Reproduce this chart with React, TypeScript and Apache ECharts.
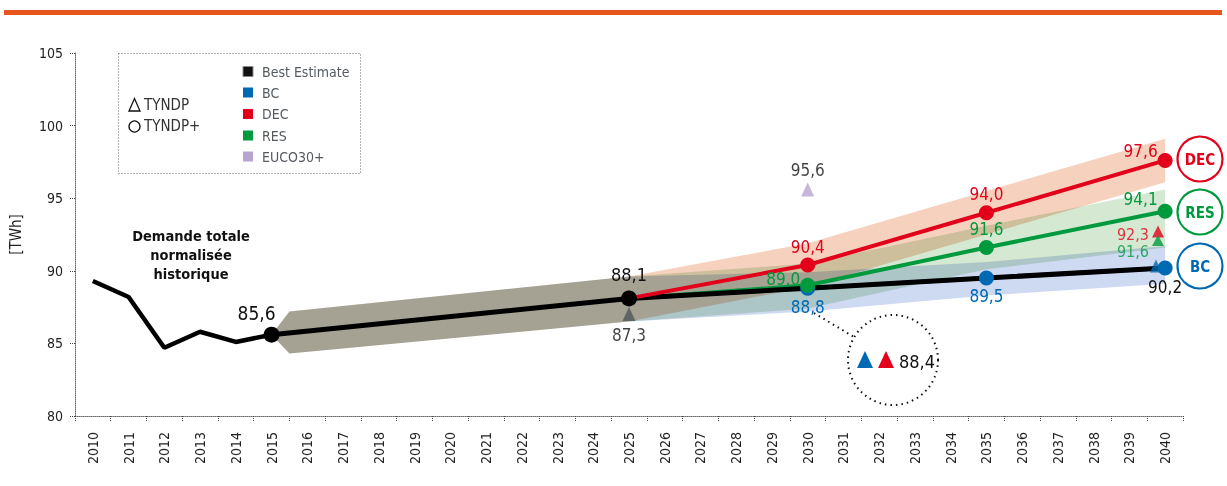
import React, { useEffect, useRef } from "react";
import * as echarts from "echarts";

// ---------- data ----------
const yearLabels = [
  "2010", "2011", "2012", "2013", "2014", "2015", "2016", "2017", "2018", "2019", "2020",
  "2021", "2022", "2023", "2024", "2025", "2026", "2027", "2028", "2029", "2030",
  "2031", "2032", "2033", "2034", "2035", "2036", "2037", "2038", "2039", "2040",
];

const historyYears = [2010, 2011, 2012, 2013, 2014, 2015];
const historyValues = [89.3, 88.2, 84.7, 85.8, 85.1, 85.6];

const bestYears = [2015, 2025, 2030, 2035, 2040];
const bestValues = [85.6, 88.1, 88.8, 89.5, 90.2];

const scenarioYears = [2025, 2030, 2035, 2040];
const decValues = [88.1, 90.4, 94.0, 97.6];
const resValues = [88.1, 89.0, 91.6, 94.1];
const bcValues = [88.1, 88.8, 89.5, 90.2];

// uncertainty bands (upper / lower edges)
const bandYears = [2015, 2015.5, 2025, 2030, 2035, 2040];
const decUpper = [85.6, 87.2, 89.6, 91.9, 95.5, 99.1];
const decLower = [85.6, 84.3, 86.5, 88.9, 92.5, 96.1];
const resUpper = [85.6, 87.2, 89.6, 90.5, 93.1, 95.6];
const resLower = [85.6, 84.3, 86.5, 87.4, 90.1, 91.6];
const bcUpper = [85.6, 87.2, 89.6, 89.9, 90.6, 91.7];
const bcLower = [85.6, 84.3, 86.5, 87.2, 88.3, 89.1];

// TYNDP markers
const tyndp2025 = 87.3;
const euco2030 = 95.6;
const tyndp2040Dec = 92.3;
const tyndp2040Res = 91.6;
const tyndp2040Bc = 90.2;
const tyndp2030Callout = 88.4;

const legendItems = ["Best Estimate", "BC", "DEC", "RES", "EUCO30+"];
const legendColors = ["#111111", "#0069B4", "#E2001A", "#009A3E", "#B8A4D0"];

// ---------- styles ----------
const FONT = '"Liberation Sans Narrow", "DejaVu Sans Condensed", "Roboto Condensed", sans-serif';
const RED = "#E2001A";
const GREEN = "#009A3E";
const BLUE = "#0069B4";
const PEACH_BAND = "#f6d2be";
const GREEN_BAND = "#d5e8d2";
const BLUE_BAND = "#ced9f2";

const fmt = (v: number) => v.toFixed(1).replace(".", ",");

function bandSeries(upper: number[], lower: number[], color: string) {
  return {
    type: "custom",
    xAxisIndex: 1,
    yAxisIndex: 0,
    silent: true,
    z: 1,
    data: bandYears.map((y, i) => [y, upper[i], lower[i]]),
    renderItem: (params: any, api: any) => {
      if (params.dataIndex !== 0) return null;
      const pts: number[][] = [];
      for (let i = 0; i < bandYears.length; i++) pts.push(api.coord([bandYears[i], upper[i]]));
      for (let i = bandYears.length - 1; i >= 0; i--) pts.push(api.coord([bandYears[i], lower[i]]));
      return {
        type: "polygon",
        shape: { points: pts },
        style: { fill: color, blend: "multiply" },
      };
    },
  };
}

function pairs(xs: number[], ys: number[]) {
  return xs.map((x, i) => [x, ys[i]]);
}

const labelBase = {
  show: true,
  fontFamily: FONT,
  fontSize: 17,
  lineHeight: 17,
  formatter: (p: any) => fmt(p.value[1]),
};

export default function App() {
  const ref = useRef<HTMLDivElement>(null);

  useEffect(() => {
    if (!ref.current) return;
    const chart = echarts.init(ref.current, undefined, { renderer: "svg" });

    const graphic: any[] = [];
    // top orange rule
    graphic.push({ type: "rect", shape: { x: 4, y: 10, width: 1218, height: 5 }, style: { fill: "#E8541E" } });
    // legend box
    graphic.push({
      type: "rect",
      shape: { x: 118.5, y: 53.5, width: 242, height: 120 },
      style: { fill: "none", stroke: "#666", lineWidth: 1, lineDash: [1, 2] },
    });
    graphic.push({
      type: "polygon",
      shape: { points: [[129, 111], [134.5, 98.5], [140, 111]] },
      style: { fill: "none", stroke: "#111", lineWidth: 1.3 },
    });
    graphic.push({
      type: "text",
      style: { text: "TYNDP", x: 144, y: 105, font: `15px ${FONT}`, fill: "#333", textVerticalAlign: "middle", verticalAlign: "middle" },
    });
    graphic.push({
      type: "circle",
      shape: { cx: 134.5, cy: 126.5, r: 5.5 },
      style: { fill: "none", stroke: "#111", lineWidth: 1.3 },
    });
    graphic.push({
      type: "text",
      style: { text: "TYNDP+", x: 144, y: 126, font: `15px ${FONT}`, fill: "#333", textVerticalAlign: "middle", verticalAlign: "middle" },
    });
    const legendY = [71.5, 92.5, 114, 135.5, 156.5];
    legendItems.forEach((name, i) => {
      graphic.push({
        type: "rect",
        shape: { x: 243, y: legendY[i] - 5, width: 10, height: 10 },
        style: { fill: legendColors[i], stroke: i === 0 ? "#888" : "none", lineWidth: 1 },
      });
      graphic.push({
        type: "text",
        style: {
          text: name, x: 262, y: legendY[i], font: `14px ${FONT}`, fill: "#555b60",
          textVerticalAlign: "middle", verticalAlign: "middle",
        },
      });
    });
    // historical caption
    graphic.push({
      type: "text",
      style: {
        text: "Demande totale\nnormalisée\nhistorique",
        x: 191, y: 255, font: `bold 14.5px ${FONT}`, fill: "#111", lineHeight: 19,
        textAlign: "center", align: "center", textVerticalAlign: "middle", verticalAlign: "middle",
      },
    });
    // callout circle
    graphic.push({
      type: "circle",
      shape: { cx: 893, cy: 360, r: 45 },
      style: { fill: "none", stroke: "#111", lineWidth: 2, lineDash: [1.5, 4] },
      z: 50,
    });
    graphic.push({
      type: "line",
      shape: { x1: 814, y1: 313, x2: 854, y2: 337 },
      style: { stroke: "#111", lineWidth: 2, lineDash: [1.5, 4] },
      z: 50,
    });
    graphic.push({
      type: "polygon",
      shape: { points: [[857, 368], [865, 351], [873, 368]] },
      style: { fill: BLUE },
      z: 50,
    });
    graphic.push({
      type: "polygon",
      shape: { points: [[878, 368], [886, 351], [894, 368]] },
      style: { fill: RED },
      z: 50,
    });
    graphic.push({
      type: "text",
      style: {
        text: fmt(tyndp2030Callout), x: 899, y: 361, font: `18px ${FONT}`, fill: "#111",
        textVerticalAlign: "middle", verticalAlign: "middle",
      },
      z: 50,
    });
    // scenario rings
    const rings = [
      { t: "DEC", c: RED, y: 159 },
      { t: "RES", c: GREEN, y: 212 },
      { t: "BC", c: BLUE, y: 266 },
    ];
    rings.forEach((r) => {
      graphic.push({
        type: "circle",
        shape: { cx: 1200, cy: r.y, r: 22.5 },
        style: { fill: "#fff", stroke: r.c, lineWidth: 2.2 },
        z: 50,
      });
      graphic.push({
        type: "text",
        style: {
          text: r.t, x: 1200, y: r.y + 1, font: `bold 15px ${FONT}`, fill: r.c,
          textAlign: "center", align: "center", textVerticalAlign: "middle", verticalAlign: "middle",
        },
        z: 51,
      });
    });

    const dotSeries = (name: string, color: string, items: any[], size: number) => ({
      name,
      type: "scatter",
      xAxisIndex: 1,
      yAxisIndex: 0,
      symbol: "circle",
      symbolSize: size,
      itemStyle: { color, opacity: 1 },
      z: 10,
      data: items,
    });

    const option: any = {
      animation: false,
      textStyle: { fontFamily: FONT },
      grid: { left: 74, right: 44, top: 53, bottom: 70, containLabel: false },
      xAxis: [
        {
          type: "category",
          data: yearLabels,
          boundaryGap: true,
          axisLine: { show: true, lineStyle: { color: "#666", type: "dotted", width: 1 } },
          axisTick: { show: true, interval: 0, length: 5, lineStyle: { color: "#444", type: "dotted", width: 1 } },
          axisLabel: { interval: 0, rotate: 90, margin: 16, fontSize: 14, color: "#222", fontFamily: FONT },
          splitLine: { show: false },
        },
        {
          type: "value",
          min: 2009.5,
          max: 2040.5,
          show: false,
          splitLine: { show: false },
        },
      ],
      yAxis: {
        type: "value",
        min: 80,
        max: 105,
        interval: 5,
        name: "[TWh]",
        nameLocation: "middle",
        nameGap: 52,
        nameRotate: 90,
        nameTextStyle: { fontSize: 15, color: "#222", fontFamily: FONT },
        axisLine: { show: true, lineStyle: { color: "#666", type: "dotted", width: 1 } },
        axisTick: { show: true, length: 5, lineStyle: { color: "#444", type: "dotted" } },
        axisLabel: { fontSize: 14, color: "#222", margin: 12, fontFamily: FONT },
        splitLine: { show: false },
      },
      graphic,
      series: [
        bandSeries(decUpper, decLower, PEACH_BAND),
        bandSeries(resUpper, resLower, GREEN_BAND),
        bandSeries(bcUpper, bcLower, BLUE_BAND),
        {
          name: "BC line", type: "line", xAxisIndex: 1, showSymbol: false, z: 3,
          lineStyle: { color: BLUE, width: 4 }, data: pairs(scenarioYears, bcValues),
        },
        {
          name: "RES line", type: "line", xAxisIndex: 1, showSymbol: false, z: 3,
          lineStyle: { color: GREEN, width: 4 }, data: pairs(scenarioYears, resValues),
        },
        {
          name: "Best Estimate", type: "line", xAxisIndex: 1, showSymbol: false, z: 4,
          lineStyle: { color: "#000", width: 5 }, data: pairs(bestYears, bestValues),
        },
        {
          name: "DEC line", type: "line", xAxisIndex: 1, showSymbol: false, z: 4,
          lineStyle: { color: RED, width: 4 }, data: pairs(scenarioYears, decValues),
        },
        {
          name: "Historique", type: "line", xAxisIndex: 1, showSymbol: false, z: 4,
          lineStyle: { color: "#000", width: 4.5 }, data: pairs(historyYears, historyValues),
        },
        // TYNDP triangles
        {
          name: "TYNDP", type: "scatter", xAxisIndex: 1, symbol: "triangle", z: 6,
          data: [
            {
              value: [2025, tyndp2025], symbolSize: [13, 14], symbolOffset: [0, 4],
              itemStyle: { color: "#4D5559" },
              label: { ...labelBase, color: "#111", position: "bottom", distance: 5 },
            },
            {
              value: [2030, euco2030], symbolSize: [13, 14],
              itemStyle: { color: "#B8A4D0" },
              label: { ...labelBase, color: "#111", position: "top", distance: 4 },
            },
            {
              value: [2039.8, tyndp2040Bc], symbolSize: [12, 13], symbolOffset: [-2, -2],
              itemStyle: { color: BLUE },
            },
            {
              value: [2039.8, tyndp2040Dec], symbolSize: [12, 12], symbolOffset: [0, -6],
              itemStyle: { color: RED },
              label: { ...labelBase, fontSize: 16, lineHeight: 16, color: RED, position: "left", distance: 3, offset: [0, 3] },
            },
            {
              value: [2039.8, tyndp2040Res], symbolSize: [12, 11], symbolOffset: [0, -7],
              itemStyle: { color: GREEN },
              label: { ...labelBase, fontSize: 16, lineHeight: 16, color: GREEN, position: "left", distance: 3, offset: [0, 11] },
            },
          ],
        },
        dotSeries("BC", BLUE, [
          { value: [2030, bcValues[1]], label: { ...labelBase, color: BLUE, position: "bottom", distance: 3 } },
          { value: [2035, bcValues[2]], label: { ...labelBase, color: BLUE, position: "bottom", distance: 2 } },
          { value: [2040, bcValues[3]], label: { ...labelBase, color: "#111", position: "bottom", distance: 3 } },
        ], 15),
        dotSeries("RES", GREEN, [
          { value: [2030, resValues[1]], label: { ...labelBase, color: GREEN, position: "left", distance: 0, offset: [0, -6] } },
          { value: [2035, resValues[2]], label: { ...labelBase, color: GREEN, position: "top", distance: 3 } },
          { value: [2040, resValues[3]], label: { ...labelBase, color: GREEN, position: "left", distance: 0, offset: [0, -12] } },
        ], 15),
        dotSeries("DEC", RED, [
          { value: [2030, decValues[1]], label: { ...labelBase, color: RED, position: "top", distance: 2 } },
          { value: [2035, decValues[2]], label: { ...labelBase, color: RED, position: "top", distance: 3 } },
          { value: [2040, decValues[3]], label: { ...labelBase, color: RED, position: "left", distance: 0, offset: [0, -9] } },
        ], 15),
        dotSeries("Best Estimate points", "#000", [
          { value: [2015, bestValues[0]], label: { ...labelBase, fontSize: 19, lineHeight: 19, color: "#111", position: "top", distance: 4, offset: [-15, 0] } },
          { value: [2025, bestValues[1]], label: { ...labelBase, fontSize: 18, lineHeight: 18, color: "#111", position: "top", distance: 7 } },
        ], 16),
      ],
    };

    chart.setOption(option);
    return () => chart.dispose();
  }, []);

  const css = `
    #chart path[fill="${PEACH_BAND}"], #chart path[fill="${GREEN_BAND}"], #chart path[fill="${BLUE_BAND}"],
    #chart path[fill="rgb(246,210,190)"], #chart path[fill="rgb(213,232,210)"], #chart path[fill="rgb(206,217,242)"] {
      mix-blend-mode: multiply;
    }
  `;

  return (
    <>
      <style>{css}</style>
      <div
        id="chart"
        ref={ref}
        style={{ position: "fixed", left: 0, top: 0, width: 1227, height: 486, background: "#fff" }}
      />
    </>
  );
}
